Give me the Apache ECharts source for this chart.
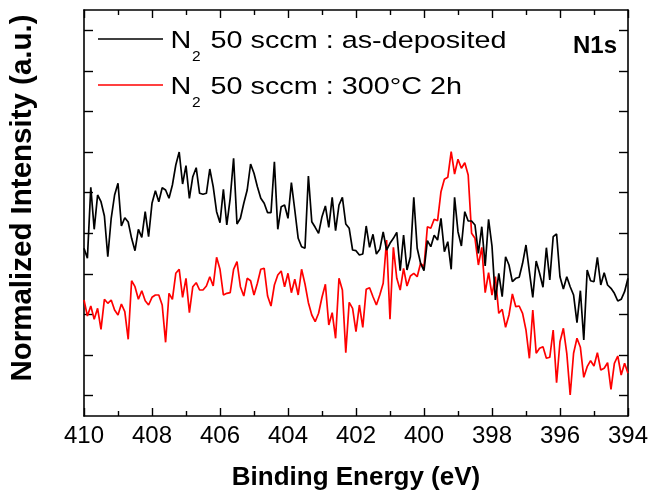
<!DOCTYPE html>
<html>
<head>
<meta charset="utf-8">
<script src="https://cdn.jsdelivr.net/npm/echarts@6/dist/echarts.min.js"></script>
<style>html,body{margin:0;padding:0;background:#fff}#c{width:651px;height:497px}</style>
</head>
<body>
<div id="c"></div>
<script>
// Binding energy grid (eV)
var energy = [
410.0,409.9,409.8,409.7,409.6,409.5,409.4,409.3,409.2,409.1,
409.0,408.9,408.8,408.7,408.6,408.5,408.4,408.3,408.2,408.1,
408.0,407.9,407.8,407.7,407.6,407.5,407.4,407.3,407.2,407.1,
407.0,406.9,406.8,406.7,406.6,406.5,406.4,406.3,406.2,406.1,
406.0,405.9,405.8,405.7,405.6,405.5,405.4,405.3,405.2,405.1,
405.0,404.9,404.8,404.7,404.6,404.5,404.4,404.3,404.2,404.1,
404.0,403.9,403.8,403.7,403.6,403.5,403.4,403.3,403.2,403.1,
403.0,402.9,402.8,402.7,402.6,402.5,402.4,402.3,402.2,402.1,
402.0,401.9,401.8,401.7,401.6,401.5,401.4,401.3,401.2,401.1,
401.0,400.9,400.8,400.7,400.6,400.5,400.4,400.3,400.2,400.1,
400.0,399.9,399.8,399.7,399.6,399.5,399.4,399.3,399.2,399.1,
399.0,398.9,398.8,398.7,398.6,398.5,398.4,398.3,398.2,398.1,
398.0,397.9,397.8,397.7,397.6,397.5,397.4,397.3,397.2,397.1,
397.0,396.9,396.8,396.7,396.6,396.5,396.4,396.3,396.2,396.1,
396.0,395.9,395.8,395.7,395.6,395.5,395.4,395.3,395.2,395.1,
395.0,394.9,394.8,394.7,394.6,394.5,394.4,394.3,394.2,394.1,
394.0];

// Normalized intensity (a.u.), as-deposited
var asDeposited = [
167.7,157.7,228.7,186.7,221,214.3,200,159.3,197.7,221,
232.7,190,198.3,194,177.7,165.3,186.7,178.7,204.3,179.3,
212.7,225.3,214.3,228.3,226,217.7,231,251,264,232,
250.3,217.7,239.3,248.3,222.7,221.7,222.7,247,229.3,204.3,
193.3,226.7,191,217.7,257.7,192,197.7,212.7,226,252,
242.7,229.3,217.7,212.7,203.3,203.3,254.3,186.7,209.3,211,
197.7,233.3,206,177.7,169.3,167.7,240,194.3,188.7,182.7,
199.3,210,188.7,218.7,185.3,211,218.7,192,187.7,166,
165.3,161,162,190,168.7,181.7,162,166.7,184,166,
172.7,177.7,183.7,145.3,181,146,159.3,218.7,167.7,152.7,
145.3,175.3,169.3,180.7,176,197.7,164.3,174.3,146.7,218.7,
184.3,170,204.3,195,195,191,162.7,189.3,150,196.7,
170,116,142.7,119.3,159.3,151,134.3,137.7,138.7,152.7,
171,144.3,118.7,155,142.7,128.7,168.3,136,179.3,182,
139.3,127,139.3,129.3,121,93.3,125.3,76,146,135.3,
134.3,158.7,131,143.3,131,127.7,122.7,115,116.7,124.3,
137.7];

// Normalized intensity (a.u.), 300 C 2h
var annealed = [
116,100,110,96.7,107.7,86.7,116.7,112.7,116,106,
101,112,104.3,76.7,135.3,129.3,116.7,125.3,115.3,111,
118.7,121,121,111,73.7,122.7,116.7,142.7,146.7,118.7,
137.7,103.3,129.3,133.3,126,126,130,139.3,130,158.7,
146.7,121,122.7,123.3,146.7,154.3,129.3,120,137.7,135.3,
121,132.7,146.7,147.7,120,110,131,141,145,129.3,
142.7,123.3,136.7,121,146.7,132,113.3,101,94.3,102.7,
118.7,131.7,91,103.3,77.7,137.7,126,63.3,113.7,107.7,
84.3,111,88.7,126.7,128.3,119.3,111,121,132.7,176,
96.7,168.7,137.7,126,147.7,130,140,142.7,139.3,152.7,
149.3,189.3,187.7,196.7,195.3,224.3,236.7,238.7,264.3,242,
256.7,247.7,253.3,241,182.7,177.7,151,168.7,123.3,143.3,
121,139.3,102.7,106.7,88.7,101,122,109.3,110,102.7,
86,57.7,106,62.7,67.7,69.3,57.7,58.7,86,33.3,
74.3,87.7,62.7,21,62.7,77.7,68.7,38.7,49.3,55.3,
50,63.3,46,47.7,53.3,26.7,52.7,60,41,52.7,
42.7];

var yTicks = [20.3,60.9,101.5,142.1,182.7,223.3,263.9,304.5,345.1,385.7];
var seriesNames = ['N\u2082 50 sccm : as-deposited', 'N\u2082 50 sccm : 300\u00B0C 2h'];
var legendMain = ['N', 'N'];
var legendSub = ['2', '2'];
var legendRest = ['50 sccm : as-deposited', '50 sccm : 300\u00B0C 2h'];
var seriesColors = ['#000000', '#ff0000'];

function pairs(xs, ys) { var o = []; for (var i = 0; i < xs.length; i++) o.push([xs[i], ys[i]]); return o; }

var FONT = '"Liberation Sans", Arial, sans-serif';
var chart = echarts.init(document.getElementById('c'), null, {renderer: 'canvas'});

// legend drawn as graphic (line sample + text with subscript)
var legendRows = [39, 85];
var graphics = [];
for (var k = 0; k < 2; k++) {
  var cy = legendRows[k];
  graphics.push({type: 'line', shape: {x1: 98, y1: cy, x2: 163, y2: cy},
    style: {stroke: seriesColors[k], lineWidth: 1.6}, silent: true});
  graphics.push({type: 'text', x: 170.5, y: cy + 2.7, scaleX: 1.175,
    style: {text: legendMain[k], fontSize: 24.5, fontFamily: FONT, fill: '#000', align: 'left', verticalAlign: 'middle'}});
  graphics.push({type: 'text', x: 192, y: cy + 17.7,
    style: {text: legendSub[k], fontSize: 15.5, fontFamily: FONT, fill: '#000', align: 'left', verticalAlign: 'middle'}});
  graphics.push({type: 'text', x: 210.5, y: cy + 2.7, scaleX: 1.175,
    style: {text: legendRest[k], fontSize: 24.5, fontFamily: FONT, fill: '#000', align: 'left', verticalAlign: 'middle'}});
}

var axisLine = {show: true, onZero: false, lineStyle: {color: '#000', width: 1.6}};

chart.setOption({
  animation: false,
  backgroundColor: '#fff',
  title: {text: 'N1s', right: 34, top: 34, padding: 0,
    textStyle: {fontFamily: FONT, fontWeight: 'bold', fontSize: 24, color: '#000'}},
  graphic: graphics,
  grid: {left: 82, right: 19, top: 10, bottom: 81, containLabel: false},
  xAxis: [{
    type: 'value', inverse: true, min: 394, max: 410, interval: 2, position: 'bottom',
    axisLine: axisLine,
    axisTick: {show: true, inside: true, length: 8, lineStyle: {color: '#000', width: 1.4}},
    minorTick: {show: true, splitNumber: 2, length: 5, lineStyle: {color: '#000', width: 1.4}},
    splitLine: {show: false}, minorSplitLine: {show: false},
    axisLabel: {fontSize: 24, fontFamily: FONT, color: '#000', margin: 8},
    name: 'Binding Energy (eV)', nameLocation: 'middle', nameGap: 49,
    nameTextStyle: {fontSize: 26, fontWeight: 'bold', fontFamily: FONT, color: '#000'}
  }, {
    type: 'value', inverse: true, min: 394, max: 410, interval: 2, position: 'top',
    axisLine: axisLine,
    axisTick: {show: true, inside: true, length: 8, lineStyle: {color: '#000', width: 1.4}},
    minorTick: {show: true, splitNumber: 2, length: 5, lineStyle: {color: '#000', width: 1.4}},
    splitLine: {show: false}, axisLabel: {show: false}
  }],
  yAxis: [{
    type: 'value', min: 0, max: 406, position: 'left',
    axisLine: axisLine,
    axisTick: {show: true, inside: true, length: 9, customValues: yTicks, lineStyle: {color: '#000', width: 1.4}},
    axisLabel: {show: false}, splitLine: {show: false},
    name: 'Normalized Intensity (a.u.)', nameLocation: 'middle', nameGap: 46, nameRotate: 90,
    nameTextStyle: {fontSize: 29.5, fontWeight: 'bold', fontFamily: FONT, color: '#000', padding: [0, 0, 0, 30]}
  }, {
    type: 'value', min: 0, max: 406, position: 'right',
    axisLine: axisLine,
    axisTick: {show: true, inside: true, length: 9, customValues: yTicks, lineStyle: {color: '#000', width: 1.4}},
    axisLabel: {show: false}, splitLine: {show: false}
  }],
  series: [{
    name: seriesNames[0], type: 'line', data: pairs(energy, asDeposited),
    showSymbol: false, symbol: 'none', color: seriesColors[0],
    lineStyle: {color: seriesColors[0], width: 1.7}, z: 3
  }, {
    name: seriesNames[1], type: 'line', data: pairs(energy, annealed),
    showSymbol: false, symbol: 'none', color: seriesColors[1],
    lineStyle: {color: seriesColors[1], width: 1.7}, z: 2
  }]
});
</script>
</body>
</html>
